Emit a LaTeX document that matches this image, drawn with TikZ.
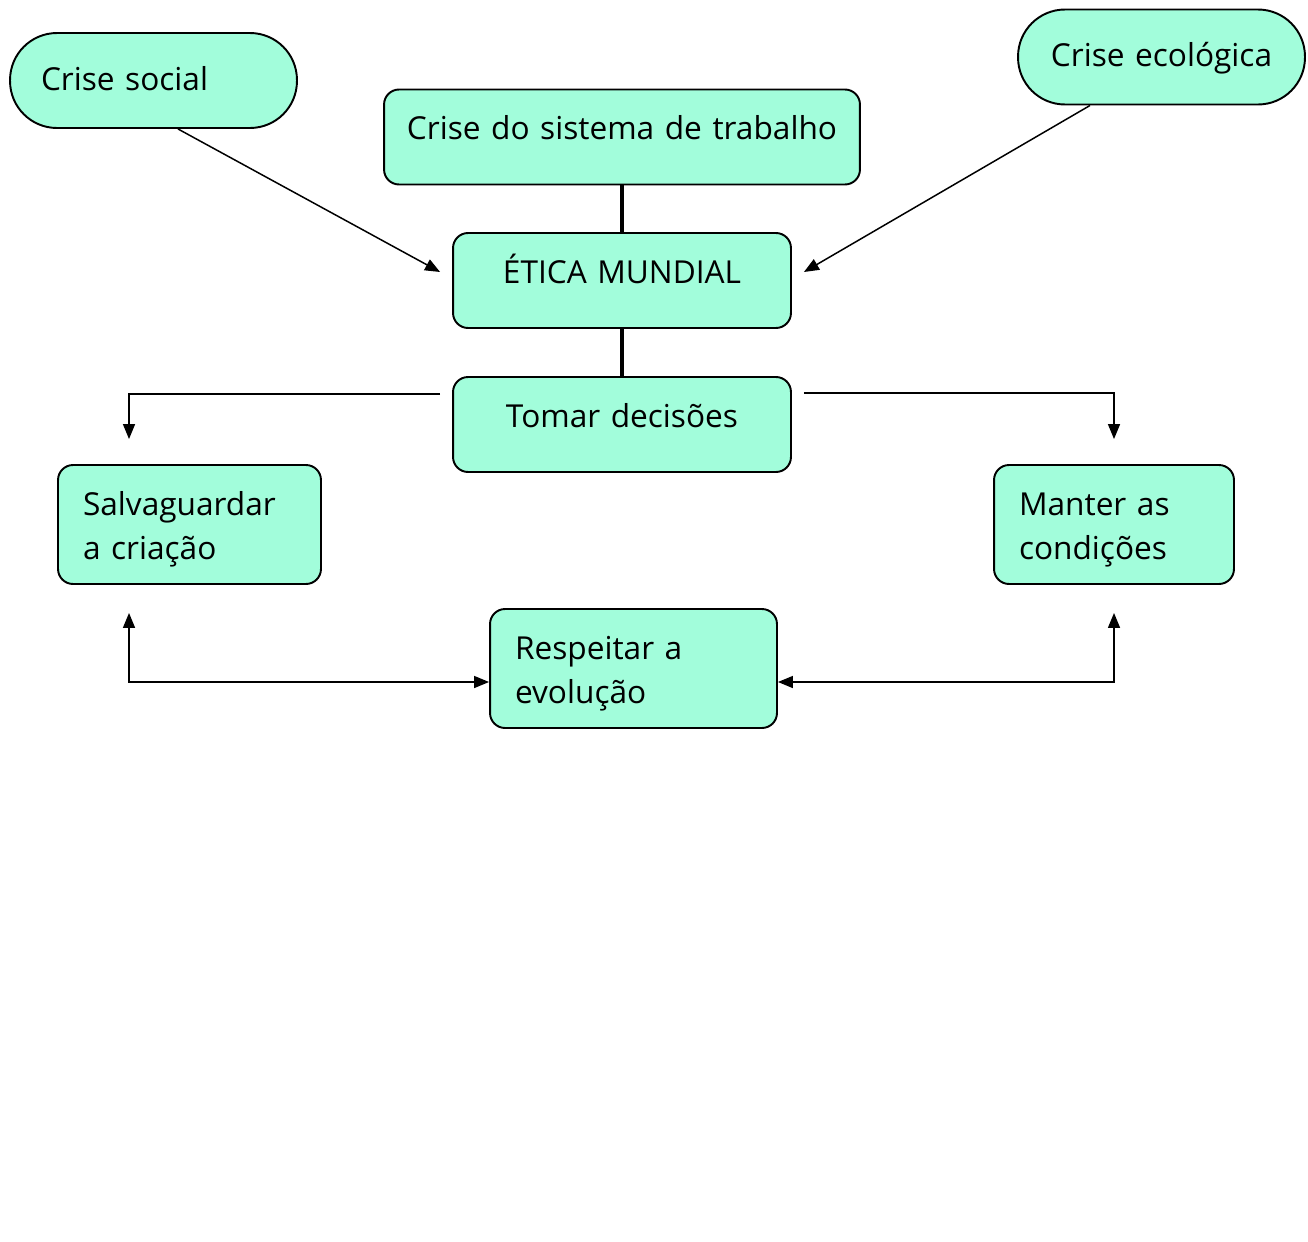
\documentclass[tikz,border=0pt]{standalone}
\usepackage{fontspec}
\setmainfont{Open Sans}
\usetikzlibrary{arrows.meta}
\definecolor{mint}{HTML}{A2FDDB}

\begin{document}
\begin{tikzpicture}[
        x=0.02cm, y=-0.02cm,
        font=\fontsize{18}{25.5}\selectfont,
        box/.style={draw, line width=1.1pt, fill=mint, rounded corners=0.3cm,
            inner xsep=0.5cm, inner ysep=0.3cm, text height=0.7cm},
        pill/.style={box, rounded corners=0.94cm, text height=0.84cm, text depth=0.46cm},
        oneline/.style={text depth=0.6cm},
        twoline/.style={text depth=1.08cm},
        arr/.style={line width=0.85pt, -{Triangle[length=0.3cm, width=0.24cm]}},
        arrs/.style={arr, {Triangle[length=0.3cm, width=0.24cm]}-{Triangle[length=0.3cm, width=0.24cm]}},
        spine/.style={line width=2.8pt}
    ]
    \useasboundingbox (0,0) rectangle (1308,1241);

    % crises
    \node[pill, text width=4.5cm, align=left, inner xsep=0.62cm] (social) at (153.5,80.5) {Crise social};
    \node[box, oneline, text width=9.2cm, inner xsep=0.16cm, align=center] (trabalho) at (622,137) {Crise do sistema de trabalho};
    \node[pill, text width=4.74cm, align=center] (ecologica) at (1161.5,57) {Crise ecológica};

    % centre
    \node[box, oneline, text width=5.76cm, align=center] (etica) at (622,280.5) {ÉTICA MUNDIAL};
    \node[box, oneline, text width=5.76cm, align=center] (tomar) at (622,424.5) {Tomar decisões};

    % consequences
    \node[box, twoline, text width=4.26cm, align=left] (salva) at (189.5,524.5) {Salvaguardar\\a criação};
    \node[box, twoline, text width=3.8cm, align=left] (manter) at (1114,524.5) {Manter as\\condições};
    \node[box, twoline, text width=4.74cm, align=left] (respeitar) at (633.5,668.5) {Respeitar a\\evolução};

    \draw[spine] (trabalho.south) -- (etica.north);
    \draw[spine] (etica.south) -- (tomar.north);
    \draw[arr] ([xshift=0.49cm]social.south) -- ([xshift=-0.24cm,yshift=0.17cm]etica.west);
    \draw[arr] ([xshift=-1.43cm]ecologica.south) -- ([xshift=0.24cm,yshift=0.17cm]etica.east);
    \draw[arr] ([xshift=-0.24cm,yshift=0.61cm]tomar.west) -| ([xshift=-1.21cm,yshift=0.5cm]salva.north);
    \draw[arr] ([xshift=0.24cm,yshift=0.63cm]tomar.east) -| ([yshift=0.5cm]manter.north);
    \draw[arrs] ([xshift=-1.21cm,yshift=-0.56cm]salva.south) |- ([yshift=-0.27cm]respeitar.west);
    \draw[arrs] ([yshift=-0.56cm]manter.south) |- ([yshift=-0.27cm]respeitar.east);
\end{tikzpicture}
\end{document}
